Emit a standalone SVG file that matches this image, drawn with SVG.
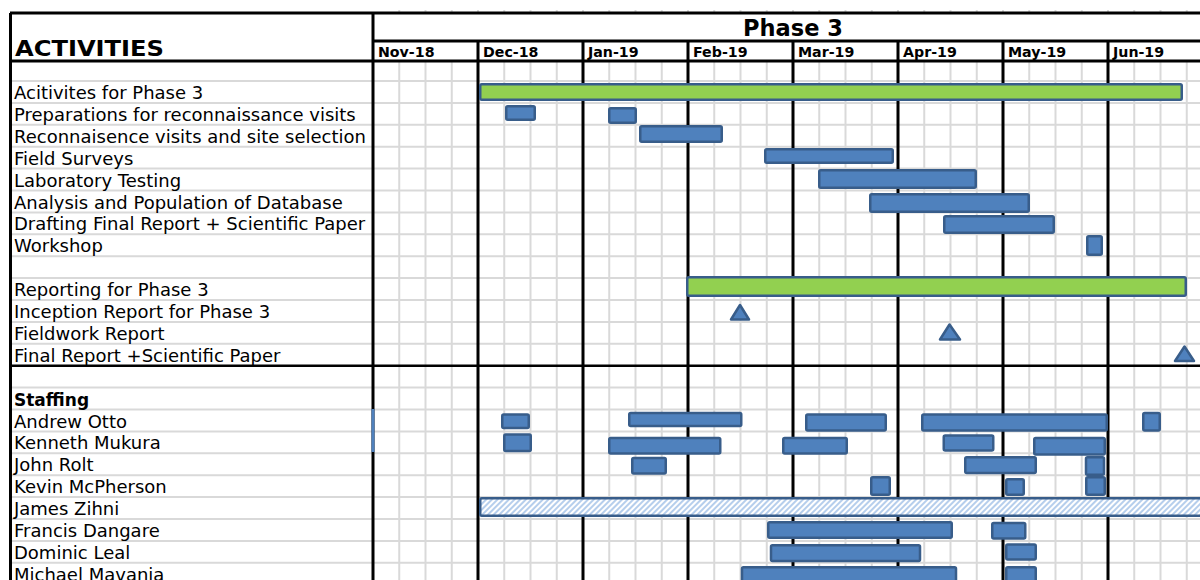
<svg xmlns="http://www.w3.org/2000/svg" width="1200" height="580" viewBox="0 0 1200 580">
<style>
.bg{fill:#ffffff}
.g{stroke:#D9D9D9;stroke-width:2;fill:none}
.k{stroke:#000000;stroke-width:3;fill:none}
.k2{stroke:#000000;stroke-width:2.5;fill:none}
.lbl{font-family:"DejaVu Sans","Liberation Sans",sans-serif;font-size:18px;fill:#000}
.bold{font-family:"DejaVu Sans","Liberation Sans",sans-serif;font-weight:bold;fill:#000}
.bar{fill:#4F81BD;stroke:#385D8A;stroke-width:2.5}
.sum{fill:#92D050;stroke:#385D8A;stroke-width:2.5}
.hat{fill:url(#hatch);stroke:#385D8A;stroke-width:2.5}
.ms{fill:#4F81BD;stroke:#385D8A;stroke-width:2.5;stroke-linejoin:round}
</style>
<defs>
<pattern id="hatch" width="4" height="4" patternUnits="userSpaceOnUse" patternTransform="rotate(45)">
<rect width="4" height="4" fill="#ffffff"/>
<line x1="1" y1="0" x2="1" y2="4" stroke="#8EB4E3" stroke-width="1.3"/>
</pattern>
</defs>
<rect class="bg" x="0" y="0" width="1200" height="580"/>

<g id="grid">
<g id="week-ticks" stroke="#D9D9D9" stroke-width="2">
<path d="M399.25 10V13M425.5 10V13M451.75 10V13M478 10V13M504.25 10V13M530.5 10V13M556.75 10V13M583 10V13M609.25 10V13M635.5 10V13M661.75 10V13M688 10V13M714.25 10V13M740.5 10V13M766.75 10V13M793 10V13M819.25 10V13M845.5 10V13M871.75 10V13M898 10V13M924.25 10V13M950.5 10V13M976.75 10V13M1003 10V13M1029.25 10V13M1055.5 10V13M1081.75 10V13M1108 10V13M1134.25 10V13M1160.5 10V13M1186.75 10V13"/>
</g>
<path class="g" d="M399.25 61V580M425.5 61V580M451.75 61V580M504.25 61V580M530.5 61V580M556.75 61V580M609.25 61V580M635.5 61V580M661.75 61V580M714.25 61V580M740.5 61V580M766.75 61V580M819.25 61V580M845.5 61V580M871.75 61V580M924.25 61V580M950.5 61V580M976.75 61V580M1029.25 61V580M1055.5 61V580M1081.75 61V580M1134.25 61V580M1160.5 61V580M1186.75 61V580"/>
<path class="g" d="M10 81H1200M10 102.9H1200M10 124.8H1200M10 146.7H1200M10 168.6H1200M10 190.5H1200M10 212.4H1200M10 234.3H1200M10 256.2H1200M10 278.1H1200M10 300H1200M10 321.9H1200M10 343.8H1200M10 387.6H1200M10 409.5H1200M10 431.4H1200M10 453.3H1200M10 475.2H1200M10 497.1H1200M10 519H1200M10 540.9H1200M10 562.8H1200"/>
<path class="k2" d="M10 365.7H1200"/>
<path class="k" d="M478 41V580M583 41V580M688 41V580M793 41V580M898 41V580M1003 41V580M1108 41V580"/>
<path class="k" d="M10 13H1200M373 41H1200M10 61H1200M10.5 13V580M373 13V580"/>
<line x1="373" y1="409" x2="373" y2="452" stroke="#4F81BD" stroke-width="3"/>
</g>

<g id="header">
<text class="bold" x="15" y="56" font-size="22" textLength="149" lengthAdjust="spacingAndGlyphs">ACTIVITIES</text>
<text class="bold" x="793" y="36" font-size="22.5" text-anchor="middle">Phase 3</text>
<g id="months">
<text class="bold" x="378" y="57" font-size="14.2">Nov-18</text>
<text class="bold" x="483" y="57" font-size="14.2">Dec-18</text>
<text class="bold" x="588" y="57" font-size="14.2">Jan-19</text>
<text class="bold" x="693" y="57" font-size="14.2">Feb-19</text>
<text class="bold" x="798" y="57" font-size="14.2">Mar-19</text>
<text class="bold" x="903" y="57" font-size="14.2">Apr-19</text>
<text class="bold" x="1008" y="57" font-size="14.2">May-19</text>
<text class="bold" x="1113" y="57" font-size="14.2">Jun-19</text>
</g>
</g>

<g id="labels">
<text class="lbl" x="14" y="99">Acitivites for Phase 3</text>
<text class="lbl" x="14" y="120.9">Preparations for reconnaissance visits</text>
<text class="lbl" x="14" y="142.8">Reconnaisence visits and site selection</text>
<text class="lbl" x="14" y="164.7">Field Surveys</text>
<text class="lbl" x="14" y="186.6">Laboratory Testing</text>
<text class="lbl" x="14" y="208.5">Analysis and Population of Database</text>
<text class="lbl" x="14" y="230.4">Drafting Final Report + Scientific Paper</text>
<text class="lbl" x="14" y="252.3">Workshop</text>
<text class="lbl" x="14" y="296.1">Reporting for Phase 3</text>
<text class="lbl" x="14" y="318">Inception Report for Phase 3</text>
<text class="lbl" x="14" y="339.9">Fieldwork Report</text>
<text class="lbl" x="14" y="361.8">Final Report +Scientific Paper</text>
<text class="bold" x="14" y="406" font-size="17">Staffing</text>
<text class="lbl" x="14" y="427.5">Andrew Otto</text>
<text class="lbl" x="14" y="449.4">Kenneth Mukura</text>
<text class="lbl" x="14" y="471.3">John Rolt</text>
<text class="lbl" x="14" y="493.2">Kevin McPherson</text>
<text class="lbl" x="14" y="515.1">James Zihni</text>
<text class="lbl" x="14" y="537">Francis Dangare</text>
<text class="lbl" x="14" y="558.9">Dominic Leal</text>
<text class="lbl" x="14" y="580.8">Michael Mavania</text>
</g>

<g id="activities">
<rect class="sum" x="480.25" y="84.25" width="701.5" height="15.5" rx="1.5"/>
<rect class="bar" x="506.25" y="106.25" width="28.5" height="13.5" rx="1.5"/>
<rect class="bar" x="609.25" y="108.25" width="26.5" height="14.5" rx="1.5"/>
<rect class="bar" x="640.25" y="126.25" width="81.5" height="15.5" rx="1.5"/>
<rect class="bar" x="765.25" y="149.25" width="127.5" height="13.5" rx="1.5"/>
<rect class="bar" x="819.25" y="170.25" width="156.5" height="17.5" rx="1.5"/>
<rect class="bar" x="870.25" y="194.25" width="158.5" height="17.5" rx="1.5"/>
<rect class="bar" x="944.25" y="216.25" width="109.5" height="16.5" rx="1.5"/>
<rect class="bar" x="1087.25" y="236.25" width="14.5" height="18.5" rx="1.5"/>
</g>

<g id="reporting">
<rect class="sum" x="687.25" y="277.25" width="498.5" height="18.5" rx="1.5"/>
<polygon class="ms" points="740,305 731,319.5 749,319.5"/>
<polygon class="ms" points="949.5,324.5 940,339.5 960,339.5"/>
<polygon class="ms" points="1184.5,346.5 1175,361 1194,361"/>
</g>

<g id="staffing">
<g id="andrew-otto">
<rect class="bar" x="502.25" y="414.5" width="26.5" height="13.5" rx="1.5"/>
<rect class="bar" x="629.25" y="413" width="112" height="13" rx="1.5"/>
<rect class="bar" x="806.25" y="414.5" width="79.5" height="16" rx="1.5"/>
<rect class="bar" x="922.25" y="414.5" width="184.5" height="16" rx="1.5"/>
<rect class="bar" x="1143.25" y="413" width="16.5" height="17.5" rx="1.5"/>
</g>
<g id="kenneth-mukura">
<rect class="bar" x="504.25" y="434.5" width="26.5" height="16.5" rx="1.5"/>
<rect class="bar" x="609.25" y="438" width="111" height="15.5" rx="1.5"/>
<rect class="bar" x="783.25" y="438" width="63.5" height="15.5" rx="1.5"/>
<rect class="bar" x="943.75" y="435.5" width="49.5" height="15" rx="1.5"/>
<rect class="bar" x="1034.25" y="438" width="70.5" height="16.5" rx="1.5"/>
</g>
<g id="john-rolt">
<rect class="bar" x="632.25" y="458" width="33.5" height="15.5" rx="1.5"/>
<rect class="bar" x="965.25" y="457.25" width="70.5" height="15.75" rx="1.5"/>
<rect class="bar" x="1086" y="457.25" width="18" height="17.5" rx="1.5"/>
</g>
<g id="kevin-mcpherson">
<rect class="bar" x="871.25" y="477.25" width="18.5" height="17.5" rx="1.5"/>
<rect class="bar" x="1006.25" y="479.25" width="17.5" height="15.5" rx="1.5"/>
<rect class="bar" x="1086.25" y="477.25" width="18.5" height="17.5" rx="1.5"/>
</g>
<g id="james-zihni">
<rect class="hat" x="480.25" y="498.25" width="730" height="17.5" rx="1.5"/>
</g>
<g id="francis-dangare">
<rect class="bar" x="768.25" y="522.25" width="183.5" height="15.5" rx="1.5"/>
<rect class="bar" x="992.25" y="523" width="33" height="15.5" rx="1.5"/>
</g>
<g id="dominic-leal">
<rect class="bar" x="771" y="545.25" width="149" height="15.75" rx="1.5"/>
<rect class="bar" x="1006.25" y="544.5" width="29.5" height="15" rx="1.5"/>
</g>
<g id="michael-mavania">
<rect class="bar" x="742" y="567.25" width="214" height="16" rx="1.5"/>
<rect class="bar" x="1006.25" y="567.25" width="29.5" height="16" rx="1.5"/>
</g>
</g>
</svg>
